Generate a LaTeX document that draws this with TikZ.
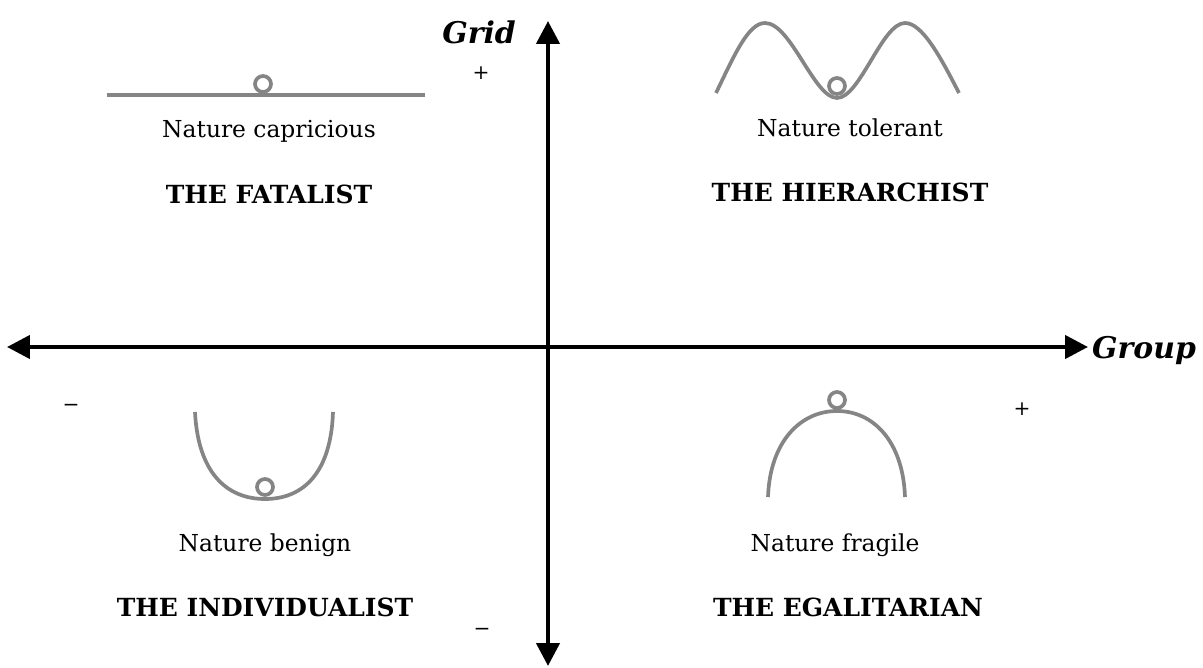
\documentclass[tikz,border=0pt]{standalone}
\usepackage{fontspec}
\setmainfont{DejaVu Serif}
\usetikzlibrary{arrows.meta}
\definecolor{curvegray}{HTML}{858585}
\tikzset{
  axis/.style      = {line width=2.5pt, black, -{Triangle[length=4.6mm, width=4.6mm]}},
  axislabel/.style = {font=\fontsize{17}{20}\selectfont\bfseries\itshape},
  sign/.style      = {font=\fontsize{11.5}{14}\selectfont},
  nature/.style    = {font=\fontsize{13.3}{16}\selectfont},
  culture/.style   = {font=\fontsize{14.2}{17}\selectfont\bfseries},
  curve/.style     = {line width=2.1pt, curvegray},
  ball/.style      = {line width=2.1pt, curvegray, fill=white},
}

\begin{document}
\begin{tikzpicture}[x=0.02cm, y=-0.02cm]
    \useasboundingbox (0,0) rectangle (1203,668);

    % axes
    \coordinate (origin) at (548,347);
    \coordinate (gridtop) at (548,21);
    \coordinate (gridbot) at (548,666);
    \coordinate (groupleft) at (7,347);
    \coordinate (groupright) at (1088,347);
    \draw[axis] (origin) -- (gridtop);
    \draw[axis] (origin) -- (gridbot);
    \draw[axis] (origin) -- (groupleft);
    \draw[axis] (origin) -- (groupright);
    \node[axislabel, anchor=east] (grid) at (522,32) {Grid};
    \node[axislabel, anchor=west] (group) at (1086,351) {Group};

    \node[sign] (gplus)  at (481,73)  {+};
    \node[sign] (gminus) at (482,632) {−};
    \node[sign] (rplus)  at (1022,409) {+};
    \node[sign] (rminus) at (71,408)  {−};

    % fatalist: flat line
    \draw[curve] (107,95) -- (425,95);
    \draw[ball] (263,84) circle (8);
    \node[nature]  (capricious) at (269,131) {Nature capricious};
    \node[culture] (fatalist)   at (269,194) {THE FATALIST};

    % hierarchist: wave
    \draw[curve] (716,93) .. controls (734,56) and (748,23) .. (765,23)
      .. controls (791,23) and (814,98) .. (837,98)
      .. controls (860,98) and (882,23) .. (905,23)
      .. controls (922,23) and (940,56) .. (959,93);
    \draw[ball] (837,86) circle (8);
    \node[nature]  (tolerant)    at (850,128) {Nature tolerant};
    \node[culture] (hierarchist) at (850,192) {THE HIERARCHIST};

    % individualist: valley
    \draw[curve] (195,412) .. controls (198,472) and (226,499) .. (265,499)
      .. controls (304,499) and (331,472) .. (333,412);
    \draw[ball] (265,487) circle (8);
    \node[nature]  (benign)        at (265,545) {Nature benign};
    \node[culture] (individualist) at (265,607) {THE INDIVIDUALIST};

    % egalitarian: hill
    \draw[curve] (768,497) .. controls (770,441) and (801,411) .. (837,411)
      .. controls (873,411) and (903,441) .. (905,497);
    \draw[ball] (837,400) circle (8);
    \node[nature]  (fragile)     at (835,545) {Nature fragile};
    \node[culture] (egalitarian) at (848,607) {THE EGALITARIAN};
  \end{tikzpicture}
\end{document}
